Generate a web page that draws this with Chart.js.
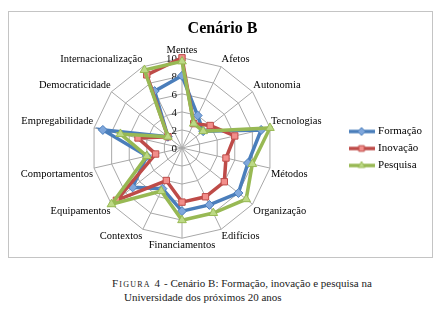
<!DOCTYPE html>
<html>
<head>
<meta charset="utf-8">
<script src="https://cdn.jsdelivr.net/npm/chart.js@4.4.1/dist/chart.umd.min.js"></script>
<style>
  body { margin: 0; background: #fff; width: 438px; height: 310px; position: relative; overflow: hidden; }
  #box { position: absolute; left: 8px; top: 11px; width: 423px; height: 245px; border: 1px solid #c4c4c4; }
  #cap { position: absolute; left: 0; top: 277px; width: 438px; font-family: "Liberation Serif", serif; font-size: 11px; color: #222; }
  #cap div { position: absolute; white-space: nowrap; }
  .sc { font-variant: small-caps; letter-spacing: 1.2px; }
</style>
</head>
<body>
<div id="box"><canvas id="radar" width="423" height="245"></canvas></div>
<div id="cap">
  <div style="left:112px; top:0px;"><span class="sc">Figura 4</span> - Cenário B: Formação, inovação e pesquisa na</div>
  <div style="left:124px; top:14px;">Universidade dos próximos 20 anos</div>
</div>
<script>
const categories = ['Mentes', 'Afetos', 'Autonomia', 'Tecnologias', 'Métodos', 'Organização', 'Edifícios',
    'Financiamentos', 'Contextos', 'Equipamentos', 'Comportamentos', 'Empregabilidade', 'Democraticidade', 'Internacionalização'];
const formacao = [8, 4, 3, 9, 7.5, 8, 7, 7, 5, 7, 4, 9, 2, 7];
const inovacao = [10, 3, 4, 6, 5, 6, 6, 6, 4, 9.3, 3, 5, 2, 9];
const pesquisa = [9.6, 3, 3, 10, 8, 9.1, 8, 8, 5.3, 10, 4, 7, 2, 9.6];
const tickLabels = [0, 2, 4, 6, 8, 10];

const serif = '"Liberation Serif", "Times New Roman", serif';

// little line + marker picture for each legend entry
const legendIcon = (line, fill, style) => {
    const c = document.createElement('canvas');
    c.width = 26;
    c.height = 12;
    const g = c.getContext('2d');
    g.strokeStyle = line;
    g.lineWidth = 3.5;
    g.beginPath();
    g.moveTo(0, 6);
    g.lineTo(26, 6);
    g.stroke();
    g.fillStyle = fill;
    g.lineWidth = 1;
    Chart.helpers.drawPoint(g, {pointStyle: style, radius: 4, borderWidth: 1, rotation: 0}, 13, 6);
    return c;
};

const series = [
    {label: 'Formação', data: formacao, line: '#4a7ebb', fill: '#7fa7dc', style: 'rectRot', order: 2},
    {label: 'Inovação', data: inovacao, line: '#be4b48', fill: '#f28e8b', style: 'rect', order: 1},
    {label: 'Pesquisa', data: pesquisa, line: '#98b954', fill: '#bcd985', style: 'triangle', order: 0}
];
const icons = series.map(s => legendIcon(s.line, s.fill, s.style));

// tick numbers drawn left of the vertical axis, like the original
const tickPlugin = {
    id: 'leftTicks',
    beforeDatasetsDraw(chart) {
        const r = chart.scales.r;
        const ctx = chart.ctx;
        ctx.save();
        ctx.font = '11px ' + serif;
        ctx.fillStyle = '#111';
        ctx.textAlign = 'right';
        ctx.textBaseline = 'middle';
        tickLabels.forEach(v => {
            ctx.fillText(String(v), r.xCenter - 5, r.yCenter - r.getDistanceFromCenterForValue(v) + 1);
        });
        ctx.restore();
    }
};

new Chart(document.getElementById('radar'), {
    type: 'radar',
    data: {
        labels: categories,
        datasets: series.map(s => ({
            label: s.label,
            data: s.data,
            borderColor: s.line,
            backgroundColor: 'transparent',
            borderWidth: 3.5,
            fill: false,
            pointStyle: s.style,
            pointRadius: s.style === 'triangle' ? 5 : 4.5,
            pointBackgroundColor: s.fill,
            pointBorderColor: s.line,
            pointBorderWidth: 1,
            order: s.order
        }))
    },
    options: {
        responsive: false,
        animation: false,
        devicePixelRatio: 1,
        layout: {padding: {left: 4, right: 0, top: 0, bottom: 4}},
        plugins: {
            title: {
                display: true,
                text: 'Cenário B',
                color: '#000',
                font: {family: serif, size: 16, weight: 'bold'},
                padding: {top: 7, bottom: 6}
            },
            legend: {
                position: 'right',
                title: {display: true, text: '', font: {size: 10}, padding: {top: 20, bottom: 0}},
                labels: {
                    usePointStyle: true,
                    pointStyleWidth: 22,
                    padding: 6,
                    color: '#000',
                    font: {family: serif, size: 11},
                    generateLabels: chart => chart.data.datasets.map((ds, i) => ({
                        text: ds.label,
                        pointStyle: icons[i],
                        datasetIndex: i,
                        hidden: false,
                        fontColor: '#000',
                        lineWidth: 0,
                        strokeStyle: 'transparent',
                        fillStyle: 'transparent'
                    })),
                    sort: (a, b) => a.datasetIndex - b.datasetIndex
                }
            },
            tooltip: {enabled: false}
        },
        scales: {
            r: {
                min: 0,
                max: 10,
                ticks: {stepSize: 2, display: false},
                grid: {color: '#a8a8a8', lineWidth: 1},
                angleLines: {color: '#a8a8a8', lineWidth: 1},
                pointLabels: {color: '#000', font: {family: serif, size: 10.5}, padding: 1}
            }
        }
    },
    plugins: [tickPlugin]
});
</script>
</body>
</html>
